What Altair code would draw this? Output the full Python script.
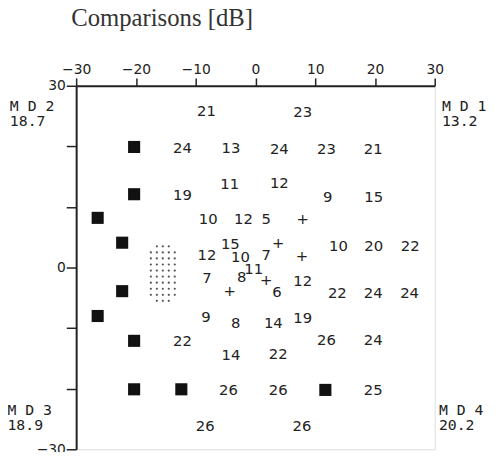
import altair as alt
import pandas as pd

# Threshold comparison values and their field positions (degrees)
labels = ["21", "23",
          "24", "13", "24", "23", "21",
          "11", "12",
          "19", "9", "15",
          "10", "12", "5", "+",
          "15", "+", "10", "20", "22",
          "12", "10", "7", "+",
          "11", "8", "+", "7", "+", "6", "12",
          "22", "24", "24",
          "9", "8", "14", "19",
          "22", "14", "22", "26", "24",
          "26", "26", "25",
          "26", "26"]
lx = [-8.2, 7.9,
      -12.2, -4.1, 4.0, 11.9, 19.7,
      -4.3, 4.0,
      -12.2, 12.1, 19.8,
      -7.9, -2.0, 1.8, 7.9,
      -4.2, 3.8, 13.9, 19.8, 25.9,
      -8.1, -2.5, 1.8, 7.8,
      -0.3, -2.3, 1.8, -8.1, -4.3, 3.6, 7.9,
      13.7, 19.7, 25.8,
      -8.3, -3.3, 3.0, 7.9,
      -12.2, -4.1, 3.8, 11.9, 19.7,
      -4.5, 3.8, 19.7,
      -8.4, 7.8]
ly = [25.9, 25.7,
      19.7, 19.7, 19.6, 19.6, 19.6,
      13.8, 13.9,
      11.9, 11.7, 11.7,
      8.0, 8.0, 8.0, 8.0,
      3.9, 4.1, 3.6, 3.6, 3.6,
      2.0, 1.8, 2.0, 1.9,
      -0.2, -1.6, -2.0, -1.8, -3.9, -4.1, -2.3,
      -4.2, -4.2, -4.2,
      -8.2, -9.1, -9.1, -8.3,
      -12.1, -14.4, -14.2, -12.0, -12.0,
      -20.2, -20.3, -20.3,
      -26.1, -26.1]

# Filled squares (absolute defects)
sq_x = [-20.3, -20.3, -26.4, -22.3, -22.3, -26.4, -20.3, -20.3, -12.4, 11.7]
sq_y = [19.9, 12.1, 8.2, 4.1, -3.9, -8.0, -12.1, -20.1, -20.1, -20.2]

# Blind-spot dot grid
dot_cols = [-17.5, -16.5, -15.5, -14.5, -13.5]
dot_rows = [3.5, 2.5, 1.5, 0.5, -0.5, -1.5, -2.5, -3.5, -4.5, -5.5]

# Quadrant mean defects
md_names = ["M D 1", "M D 2", "M D 3", "M D 4"]
md_values = ["13.2", "18.7", "18.9", "20.2"]
md_x = [31.2, -41.1, -41.5, 30.7]
md_y = [26.6, 26.6, -23.5, -23.5]

ticks = [-30, -20, -10, 0, 10, 20, 30]

txt_df = pd.DataFrame({"x": lx, "y": ly, "t": labels})
sq_df = pd.DataFrame({"x": sq_x, "y": sq_y})
dots = []
for i, r in enumerate(dot_rows):
    for j, c in enumerate(dot_cols):
        if (i == 0 or i == len(dot_rows) - 1) and (j == 0 or j == len(dot_cols) - 1):
            continue
        dots.append({"x": c, "y": r})
dot_df = pd.DataFrame(dots)
md_df = pd.DataFrame({"x": md_x, "y": md_y, "n": md_names, "v": md_values})
md_df["y2"] = md_df["y"] - 2.5

xs = alt.Scale(domain=[-30, 30], nice=False, zero=False)
ys = alt.Scale(domain=[-30, 30], nice=False, zero=False)

xax = alt.Axis(orient="top", values=ticks, tickSize=8, labelPadding=1, grid=False,
               labelFlush=False, labelOverlap=False,
               title=None, labelFont="DejaVu Sans", labelFontSize=14, labelColor="#222",
               domainColor="#222", tickColor="#222", domainWidth=2, tickWidth=1.5)
yax = alt.Axis(orient="left", values=ticks, tickSize=10, labelPadding=1, grid=False,
               labelFlush=False, labelOverlap=False,
               title=None, labelFont="DejaVu Sans", labelFontSize=14, labelColor="#222",
               labelExpr="datum.value % 30 == 0 ? datum.label : ''",
               domainColor="#222", tickColor="#222", domainWidth=2, tickWidth=1.5)

base_x = alt.X("x:Q", scale=xs, axis=xax)
base_y = alt.Y("y:Q", scale=ys, axis=yax)

text_layer = alt.Chart(txt_df).mark_text(
    font="DejaVu Sans", fontSize=15, color="#222", align="center", baseline="middle"
).encode(x=base_x, y=base_y, text="t:N")

sq_layer = alt.Chart(sq_df).mark_square(size=150, color="#111", opacity=1).encode(
    x=alt.X("x:Q", scale=xs), y=alt.Y("y:Q", scale=ys))

dot_layer = alt.Chart(dot_df).mark_circle(size=5, color="#555", opacity=1).encode(
    x=alt.X("x:Q", scale=xs), y=alt.Y("y:Q", scale=ys))

md_name_layer = alt.Chart(md_df).mark_text(
    font="DejaVu Sans Mono", fontSize=15, color="#222", align="left", baseline="middle"
).encode(x=alt.X("x:Q", scale=xs), y=alt.Y("y:Q", scale=ys), text="n:N")

md_val_layer = alt.Chart(md_df).mark_text(
    font="DejaVu Sans Mono", fontSize=15, color="#222", align="left", baseline="middle"
).encode(x=alt.X("x:Q", scale=xs), y=alt.Y("y2:Q", scale=ys), text="v:N")

chart = alt.layer(text_layer, sq_layer, dot_layer, md_name_layer, md_val_layer).properties(
    width=363, height=368,
    title=alt.TitleParams("Comparisons [dB]", font="Liberation Serif", fontSize=25,
                          fontWeight="normal", anchor="start", frame="group", dx=-5,
                          offset=33, color="#333"),
    autosize=alt.AutoSizeParams(type="none"),
    padding={"left": 69, "top": 76, "right": 58, "bottom": 0},
).configure_view(stroke="#222", strokeWidth=2).configure(background="white")

chart.save("out.html", embed_options={"renderer": "svg", "actions": False})
